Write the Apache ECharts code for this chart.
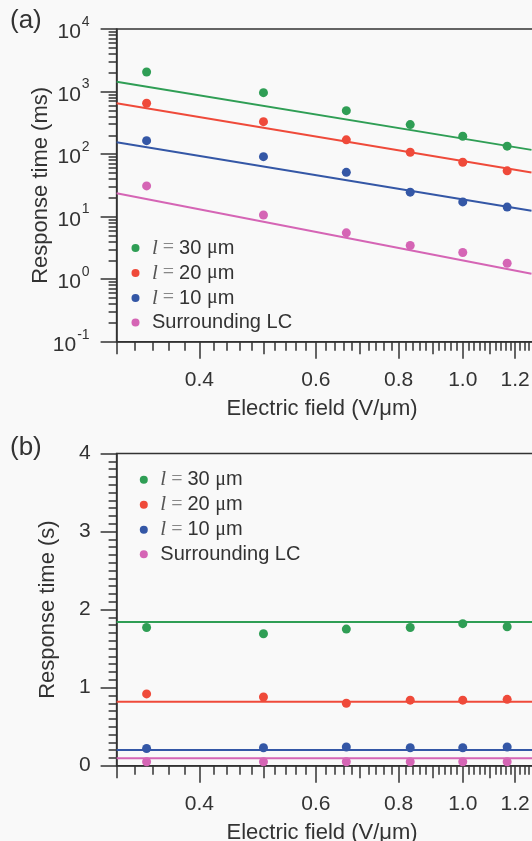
<!DOCTYPE html>
<html>
<head>
<meta charset="utf-8">
<script src="https://cdn.jsdelivr.net/npm/echarts@6/dist/echarts.min.js"></script>
<style>
html,body{margin:0;padding:0;background:#ffffff;}
#c{width:532px;height:841px;background:#f9f9f9;}
</style>
</head>
<body>
<div id="c"></div>
<script>
// ---------- data ----------
const field = [0.333, 0.5, 0.667, 0.833, 1.0, 1.167];           // V/μm
// panel (a) response time (ms)
const tA30 = [2056, 960, 495, 296, 193, 134];
const tA20 = [650, 330, 169, 107, 74, 54];
const tA10 = [164, 91, 51, 24.6, 17.2, 14.2];
const tASurr = [31, 10.6, 5.5, 3.45, 2.67, 1.8];
// panel (a) fit lines (read at the two ends)
const fitAX = [0.3, 1.27];
const fitA30 = [1439, 116.7];
const fitA20 = [650, 50.6];
const fitA10 = [155, 12.4];
const fitASurr = [23.7, 1.22];
// panel (b) response time (s)
const tB30 = [1.77, 1.69, 1.75, 1.77, 1.82, 1.78];
const tB20 = [0.92, 0.88, 0.80, 0.84, 0.84, 0.85];
const tB10 = [0.22, 0.23, 0.24, 0.23, 0.23, 0.24];
const tBSurr = [0.05, 0.05, 0.05, 0.05, 0.05, 0.05];
const fitBX = [0.3, 1.4];
const fitB30 = [1.84, 1.84];
const fitB20 = [0.82, 0.82];
const fitB10 = [0.20, 0.20];
const fitBSurr = [0.095, 0.095];
// tick labels
const xLabels = [0.4, 0.6, 0.8, 1.0, 1.2];
const xMedium = [0.3, 0.5, 0.7, 0.9, 1.1, 1.3];
const yALabels = [0.1, 1, 10, 100, 1000, 10000];
const yBLabels = [0, 1, 2, 3, 4];

const names = ['l30', 'l20', 'l10', 'surr'];
const colors = ['#2f9e55', '#ef4a3a', '#3457a6', '#d565b5'];

// minor tick lists
const xMinor = [];
for (let i = 30; i <= 140; i += 2) {
  const v = i / 100;
  if (i % 10 !== 0) xMinor.push(v);
}
const yAMinor = [];
for (let e = -1; e < 4; e++) for (let m = 2; m <= 9; m++) yAMinor.push(m * Math.pow(10, e));
const yBMinor = [];
for (let i = 0; i <= 40; i++) if (i % 10 !== 0) yBMinor.push(i / 10);

const AX = '#333';
const FONT = 'Liberation Sans, Arial, sans-serif';
const SERIF = 'Liberation Serif, Times New Roman, serif';
const gridW = 442.9;

function xAxes(gridIndex) {
  const base = {type: 'log', logBase: 10, min: 0.3, max: 1.4, gridIndex, position: 'bottom',
    splitLine: {show: false}, minorTick: {show: false}, minorSplitLine: {show: false}};
  return [
    Object.assign({}, base, {
      axisLine: {show: true, lineStyle: {color: AX, width: 1.5}},
      axisTick: {show: true, customValues: xLabels, length: 17, lineStyle: {color: AX, width: 1.5}},
      axisLabel: {show: true, customValues: xLabels, margin: 28, color: AX, fontSize: 21, fontFamily: FONT,
        formatter: v => Number(v).toFixed(1)},
      name: 'Electric field (V/\u03bcm)', nameLocation: 'middle', nameGap: 56, nameMoveOverlap: false,
      nameTextStyle: {fontSize: 22, color: AX, fontFamily: FONT, padding: [0, 32, 0, 0]}
    }),
    Object.assign({}, base, {
      axisLine: {show: false}, axisLabel: {show: false},
      axisTick: {show: true, customValues: xMedium, length: 12.5, lineStyle: {color: AX, width: 1.5}}
    }),
    Object.assign({}, base, {
      axisLine: {show: false}, axisLabel: {show: false},
      axisTick: {show: true, customValues: xMinor, length: 9, lineStyle: {color: AX, width: 1.5}}
    })
  ];
}

const legendFmt = function (n) {
  if (n === 'surr') return '{t|Surrounding LC}';
  const num = n.slice(1);
  return '{i|l}{eq| = }{t|' + num + ' }{mu|\u03bc}{t|m}';
};
const legendRich = {
  t: {fontSize: 20, fontFamily: FONT, color: AX, lineHeight: 20},
  i: {fontSize: 21, fontFamily: SERIF, fontStyle: 'italic', color: '#555', lineHeight: 20},
  eq: {fontSize: 20, fontFamily: SERIF, color: '#888', lineHeight: 20},
  mu: {fontSize: 20, fontFamily: SERIF, color: AX, lineHeight: 20}
};
function legend(left, top) {
  return {
    data: names, orient: 'vertical', left, top, padding: 0, itemGap: 4,
    itemWidth: 23, itemHeight: 8, icon: 'circle', selectedMode: false,
    formatter: legendFmt, textStyle: {rich: legendRich, color: AX}
  };
}

function pairs(xs, ys) { return xs.map((x, i) => [x, ys[i]]); }

const series = [];
const aData = [tA30, tA20, tA10, tASurr];
const aFit = [fitA30, fitA20, fitA10, fitASurr];
const bData = [tB30, tB20, tB10, tBSurr];
const bFit = [fitB30, fitB20, fitB10, fitBSurr];
for (let k = 0; k < 4; k++) {
  series.push({type: 'line', name: 'fitA' + k, xAxisIndex: 0, yAxisIndex: 0, data: pairs(fitAX, aFit[k]),
    showSymbol: false, symbol: 'none', lineStyle: {color: colors[k], width: 2}, z: 2, silent: true});
  series.push({type: 'scatter', name: names[k], xAxisIndex: 0, yAxisIndex: 0, data: pairs(field, aData[k]),
    symbolSize: 9, itemStyle: {color: colors[k], opacity: 1}, z: 3});
  series.push({type: 'line', name: 'fitB' + k, xAxisIndex: 3, yAxisIndex: 2, data: pairs(fitBX, bFit[k]),
    showSymbol: false, symbol: 'none', lineStyle: {color: colors[k], width: 2}, z: 2, silent: true});
  series.push({type: 'scatter', name: names[k], xAxisIndex: 3, yAxisIndex: 2, data: pairs(field, bData[k]),
    symbolSize: 9, itemStyle: {color: colors[k], opacity: 1}, z: 3});
}

const chart = echarts.init(document.getElementById('c'), null, {renderer: 'canvas'});
chart.setOption({
  backgroundColor: '#f9f9f9',
  animation: false,
  textStyle: {fontFamily: FONT},
  grid: [
    {left: 116.6, top: 29, width: gridW, height: 312.7, show: true, borderColor: AX, borderWidth: 1.5,
      backgroundColor: 'transparent', containLabel: false, outerBoundsMode: 'none'},
    {left: 116.6, top: 453.5, width: gridW, height: 312.2, show: true, borderColor: AX, borderWidth: 1.5,
      backgroundColor: 'transparent', containLabel: false, outerBoundsMode: 'none'}
  ],
  xAxis: xAxes(0).concat(xAxes(1)),
  yAxis: [
    {type: 'log', logBase: 10, min: 0.1, max: 10000, gridIndex: 0, position: 'left', splitLine: {show: false},
      axisLine: {show: true, lineStyle: {color: AX, width: 1.5}},
      axisTick: {show: true, customValues: yALabels, length: 16, lineStyle: {color: AX, width: 1.5}},
      axisLabel: {show: true, customValues: yALabels, margin: 27, color: AX, fontFamily: FONT,
        formatter: v => '{b|10}{s|' + Math.round(Math.log10(v)) + '}',
        rich: {b: {fontSize: 21, fontFamily: FONT, color: AX, lineHeight: 28, verticalAlign: 'bottom'},
               s: {fontSize: 14, fontFamily: FONT, color: AX, lineHeight: 28, verticalAlign: 'top', padding: [0, 0, 0, 1]}}},
      name: 'Response time (ms)', nameLocation: 'middle', nameGap: 65, nameRotate: 90, nameMoveOverlap: false,
      nameTextStyle: {fontSize: 22, color: AX, fontFamily: FONT}},
    {type: 'log', logBase: 10, min: 0.1, max: 10000, gridIndex: 0, position: 'left', offset: 0, splitLine: {show: false},
      axisLine: {show: false}, axisLabel: {show: false},
      axisTick: {show: true, customValues: yAMinor, length: 8, lineStyle: {color: AX, width: 1.5}}},
    {type: 'value', min: 0, max: 4, interval: 1, gridIndex: 1, position: 'left', splitLine: {show: false},
      axisLine: {show: true, lineStyle: {color: AX, width: 1.5}},
      axisTick: {show: true, customValues: yBLabels, length: 16, lineStyle: {color: AX, width: 1.5}},
      axisLabel: {show: true, customValues: yBLabels, margin: 26, color: AX, fontSize: 21, fontFamily: FONT},
      name: 'Response time (s)', nameLocation: 'middle', nameGap: 58, nameRotate: 90, nameMoveOverlap: false,
      nameTextStyle: {fontSize: 22, color: AX, fontFamily: FONT}},
    {type: 'value', min: 0, max: 4, interval: 1, gridIndex: 1, position: 'left', offset: 0, splitLine: {show: false},
      axisLine: {show: false}, axisLabel: {show: false},
      axisTick: {show: true, customValues: yBMinor, length: 8, lineStyle: {color: AX, width: 1.5}}}
  ],
  legend: [legend(131.5, 237.5), legend(139.8, 469.3)],
  graphic: [
    {type: 'text', left: 10, top: 8, style: {text: '(a)', fontSize: 26, fontFamily: FONT, fill: AX}},
    {type: 'text', left: 10, top: 435, style: {text: '(b)', fontSize: 26, fontFamily: FONT, fill: AX}}
  ],
  series
});
</script>
</body>
</html>
